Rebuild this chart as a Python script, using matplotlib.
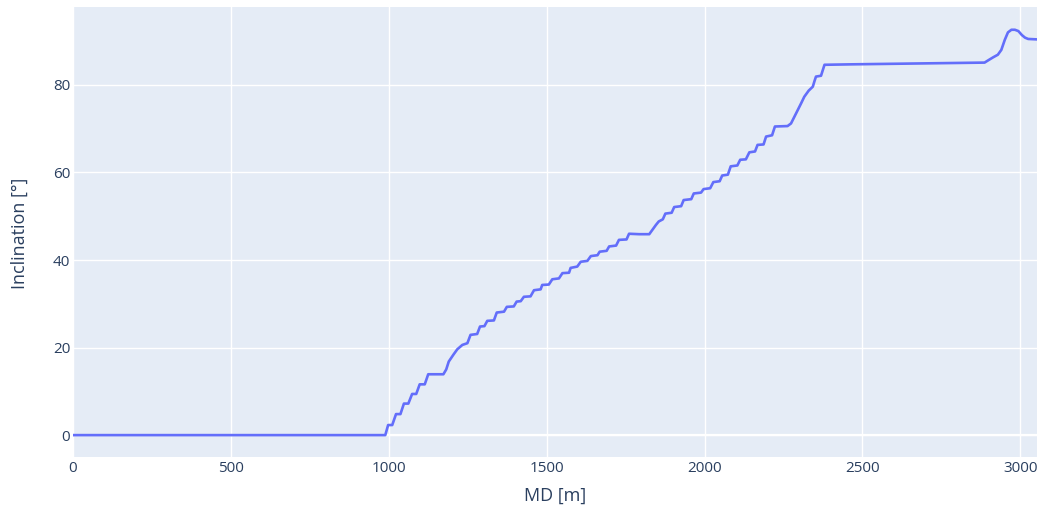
import matplotlib
matplotlib.use("Agg")
import matplotlib.pyplot as plt

# Well survey: measured depth [m] vs. inclination [deg]
md = [0, 989, 998, 1011, 1023, 1037, 1048, 1062, 1074, 1087, 1098, 1114, 1125, 1173,
      1182, 1190, 1205, 1217, 1233, 1249, 1259, 1280, 1289, 1303, 1312, 1333, 1342,
      1365, 1374, 1396, 1405, 1418, 1428, 1449, 1460, 1481, 1486, 1507, 1518, 1539,
      1550, 1571, 1576, 1597, 1608, 1629, 1640, 1661, 1668, 1690, 1698, 1720, 1729,
      1753, 1761, 1793, 1825, 1835, 1846, 1855, 1868, 1876, 1896, 1904, 1926, 1934,
      1958, 1966, 1989, 1997, 2018, 2028, 2048, 2056, 2074, 2083, 2104, 2113, 2131,
      2142, 2160, 2168, 2187, 2195, 2214, 2223, 2263, 2274, 2290, 2306, 2316, 2330,
      2343, 2348, 2353, 2369, 2380, 2464, 2676, 2887, 2898, 2914, 2929, 2940, 2951,
      2961, 2972, 2983, 2994, 3005, 3015, 3025, 3053]

inclination = [0, 0, 2.3, 2.3, 4.8, 4.8, 7.2, 7.2, 9.4, 9.4, 11.6, 11.6, 13.9, 13.9,
               15.0, 16.8, 18.4, 19.6, 20.6, 21.0, 22.9, 23.1, 24.8, 24.9, 26.1, 26.2,
               28.0, 28.2, 29.3, 29.4, 30.5, 30.6, 31.6, 31.7, 33.1, 33.3, 34.3, 34.4,
               35.6, 35.8, 37.0, 37.1, 38.2, 38.5, 39.6, 39.8, 40.9, 41.1, 41.9, 42.1,
               43.1, 43.3, 44.6, 44.7, 46.0, 45.9, 45.9, 46.9, 48.0, 48.8, 49.3, 50.6,
               50.8, 52.1, 52.3, 53.7, 53.9, 55.2, 55.4, 56.2, 56.4, 57.8, 58.0, 59.3,
               59.5, 61.4, 61.6, 62.9, 63.0, 64.6, 64.8, 66.3, 66.4, 68.2, 68.5, 70.5,
               70.6, 71.2, 73.5, 75.8, 77.3, 78.7, 79.6, 80.8, 81.9, 82.1, 84.6, 84.7,
               84.9, 85.1, 85.6, 86.3, 86.9, 88.0, 90.3, 92.0, 92.6, 92.6, 92.3, 91.4,
               90.8, 90.5, 90.4]

x_ticks = [0, 500, 1000, 1500, 2000, 2500, 3000]
y_ticks = [0, 20, 40, 60, 80]

W, H = 1042, 509
fig = plt.figure(figsize=(W / 100, H / 100), dpi=100)
fig.patch.set_facecolor("white")

left, right, top, bottom = 73, 1037, 7, 457
ax = fig.add_axes([left / W, 1 - bottom / H, (right - left) / W, (bottom - top) / H])
ax.set_facecolor("#e5ecf6")

text_color = "#2a3f5f"
font = "Open Sans"

ax.plot(md, inclination, color="#636efa", lw=1.9, solid_joinstyle="round",
        solid_capstyle="round", zorder=3, clip_on=True)

ax.set_xlim(0, 3053)
ax.set_ylim(-5.0, 97.8)
ax.set_xticks(x_ticks)
ax.set_yticks(y_ticks)
ax.set_xticklabels([str(t) for t in x_ticks])
ax.set_yticklabels([str(t) for t in y_ticks])

ax.grid(True, color="white", lw=1.0, zorder=1)
ax.axhline(0, color="white", lw=1.6, zorder=2)
ax.set_axisbelow(True)
for s in ax.spines.values():
    s.set_visible(False)

ax.tick_params(axis="both", length=0, labelsize=11, labelcolor=text_color)
ax.tick_params(axis="x", pad=3)
ax.tick_params(axis="y", pad=2)
for lbl in ax.get_xticklabels() + ax.get_yticklabels():
    lbl.set_fontfamily(font)

ax.set_xlabel("MD [m]", fontsize=13, color=text_color, fontfamily=font, va="center")
ax.xaxis.set_label_coords(0.5, -(496 - bottom) / (bottom - top))
ax.set_ylabel("Inclination [°]", fontsize=13, color=text_color, fontfamily=font,
              va="center")
ax.yaxis.set_label_coords(-(left - 20) / (right - left), (bottom - 233) / (bottom - top))

fig.savefig("out.png", dpi=100)
